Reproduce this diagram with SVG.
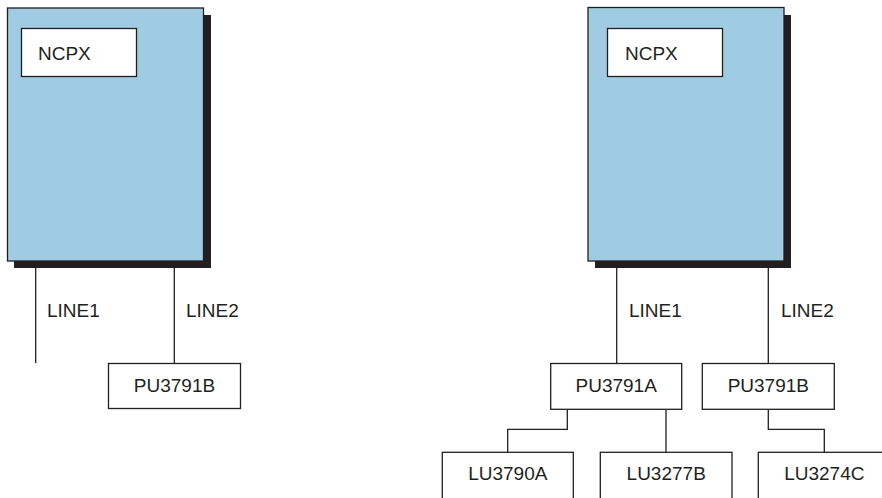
<svg xmlns="http://www.w3.org/2000/svg" width="882" height="498" viewBox="0 0 882 498">
<style>
.shadow{fill:#231f20}
.big{fill:#9fcce3;stroke:#231f20;stroke-width:1.3}
.box{fill:#fff;stroke:#231f20;stroke-width:1.3}
.ln{fill:none;stroke:#231f20;stroke-width:1.3}
text{font-family:"Liberation Sans",Arial,sans-serif;font-size:19px;fill:#231f20}
.c{text-anchor:middle}
</style>
<rect width="882" height="498" fill="#fff"/>
<g id="ncpx-left">
<rect class="shadow" x="14" y="15" width="197" height="253"/>
<rect class="big" x="7.5" y="8" width="196" height="253"/>
<rect class="box" x="21.5" y="28.5" width="115" height="48"/>
<text x="38" y="60">NCPX</text>
</g>
<g id="ncpx-right">
<rect class="shadow" x="595" y="15" width="196" height="253"/>
<rect class="big" x="588" y="7.5" width="196" height="253.5"/>
<rect class="box" x="607.5" y="28.5" width="115" height="48"/>
<text x="625" y="60">NCPX</text>
</g>
<g id="connectors">
<line class="ln" x1="35.7" y1="268" x2="35.7" y2="363"/>
<line class="ln" x1="174.3" y1="268" x2="174.3" y2="363.5"/>
<line class="ln" x1="616.7" y1="268" x2="616.7" y2="363.5"/>
<line class="ln" x1="768.3" y1="268" x2="768.3" y2="363.5"/>
<polyline class="ln" points="567.3,409.3 567.3,429.3 507.7,429.3 507.7,452.3"/>
<line class="ln" x1="666" y1="409.3" x2="666" y2="452.3"/>
<polyline class="ln" points="768.3,409.3 768.3,429.3 824.3,429.3 824.3,452.3"/>
<text x="47" y="317">LINE1</text>
<text x="186" y="317">LINE2</text>
<text x="629" y="317">LINE1</text>
<text x="781" y="317">LINE2</text>
</g>
<g id="pu3791b-left">
<rect class="box" x="108.5" y="363.5" width="132" height="45"/>
<text class="c" x="174.5" y="392">PU3791B</text>
</g>
<g id="pu3791a">
<rect class="box" x="550.7" y="363.5" width="131" height="45.8"/>
<text class="c" x="616.2" y="392">PU3791A</text>
</g>
<g id="pu3791b-right">
<rect class="box" x="702.3" y="363.5" width="132" height="45.8"/>
<text class="c" x="768.3" y="392">PU3791B</text>
</g>
<g id="lu3790a">
<rect class="box" x="442.3" y="452.3" width="131" height="60"/>
<text class="c" x="507.8" y="480">LU3790A</text>
</g>
<g id="lu3277b">
<rect class="box" x="600.3" y="452.3" width="131.7" height="60"/>
<text class="c" x="666.2" y="480">LU3277B</text>
</g>
<g id="lu3274c">
<rect class="box" x="758.3" y="452.3" width="140" height="60"/>
<text class="c" x="824.3" y="480">LU3274C</text>
</g>
</svg>
